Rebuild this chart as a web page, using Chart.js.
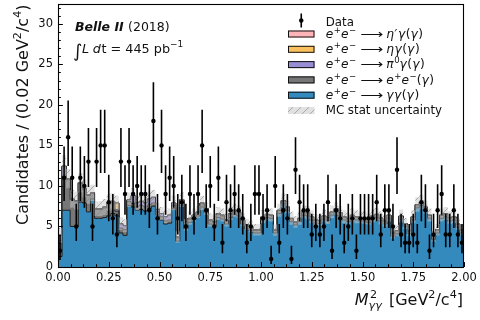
<!DOCTYPE html>
<html>
<head>
<meta charset="utf-8">
<script src="https://cdn.jsdelivr.net/npm/chart.js@4.4.1/dist/chart.umd.min.js"></script>
<style>
  html, body { margin: 0; padding: 0; background: #fff; }
  #wrap { width: 480px; height: 320px; }
</style>
</head>
<body>
<div id="wrap"><canvas id="c" width="480" height="320"></canvas></div>
<script>
// Histogram binning of M^2_gammagamma: 100 bins of 0.02 GeV^2/c^4 from 0 to 2
const BIN_WIDTH = 0.02;
const X_MIN = 0.0;
const X_MAX = 2.0;
const Y_MAX = 32.5;

// Observed candidates per bin
const dataCounts = [
  2, 11, 16, 11, 5, 11, 10, 13, 5, 13,
  15, 15, 8, 6, 4, 13, 9, 13, 9, 10,
  9, 9, 7, 18, 6, 15, 9, 11, 10, 6,
  8, 5, 9, 6, 9, 15, 7, 10, 5, 11,
  3, 8, 7, 9, 7, 6, 3, 5, 9, 9,
  6, 7, 1, 10, 3, 7, 6, 1, 12, 8,
  7, 7, 4, 5, 4, 5, 8, 2, 7, 6,
  3, 5, 6, 2, 6, 6, 6, 6, 8, 4,
  7, 7, 5, 12, 4, 3, 3, 4, 3, 8,
  7, 2, 4, 7, 9, 4, 4, 7, 4, 3
];

// Simulated yields per bin, one array per process (stacked bottom to top)
const ggYield = [
  1.3, 7.0, 7.0, 5.0, 5.0, 8.0, 7.9, 6.8, 8.4, 6.0,
  6.0, 6.1, 6.3, 6.6, 6.3, 4.2, 3.9, 7.6, 7.4, 7.0,
  7.1, 6.9, 7.2, 7.5, 6.4, 5.8, 5.3, 5.4, 7.2, 3.2,
  7.6, 4.7, 5.5, 5.9, 6.3, 7.4, 6.7, 5.3, 5.1, 6.1,
  5.9, 5.3, 6.1, 6.5, 6.3, 5.3, 4.7, 4.5, 4.2, 4.2,
  5.8, 6.1, 6.0, 4.2, 6.6, 7.8, 7.0, 5.6, 5.2, 5.6,
  6.4, 6.3, 5.8, 5.4, 5.4, 5.9, 5.7, 6.4, 6.8, 6.3,
  5.8, 5.6, 6.0, 5.8, 5.7, 5.7, 5.5, 5.9, 6.1, 5.7,
  5.3, 6.0, 3.8, 4.1, 5.9, 5.0, 4.1, 5.8, 7.3, 7.6,
  7.0, 6.0, 3.4, 4.2, 6.0, 6.2, 5.7, 5.8, 4.9, 4.2
];
const eeYield = [
  2.0, 4.2, 3.8, 3.3, 3.1, 2.3, 1.7, 2.0, 0.7, 1.1,
  1.1, 1.2, 1.5, 1.2, 0.6, 0.6, 0.7, 0.5, 0.5, 0.5,
  0.5, 0.5, 0.5, 0.4, 0.4, 0.4, 0.4, 0.4, 0.4, 0.4,
  0.5, 0.4, 0.4, 0.4, 0.4, 0.4, 0.4, 0.4, 0.4, 0.4,
  0.4, 0.4, 0.4, 0.4, 0.4, 0.4, 0.4, 0.4, 0.3, 0.3,
  0.35, 0.35, 0.35, 0.3, 0.35, 0.35, 0.35, 0.35, 0.3, 0.35,
  0.35, 0.35, 0.35, 0.35, 0.3, 0.35, 0.35, 0.35, 0.35, 0.35,
  0.35, 0.35, 0.35, 0.35, 0.35, 0.35, 0.35, 0.35, 0.35, 0.3,
  0.35, 0.35, 0.35, 0.35, 0.35, 0.3, 0.35, 0.35, 0.35, 0.35,
  0.35, 0.35, 0.35, 0.35, 0.35, 0.35, 0.35, 0.35, 0.35, 0.35
];
const pi0Yield = [
  0.6, 1.2, 0.1, 0.1, 0.1, 0.1, 0.1, 0.1, 0.05, 0.1,
  0.1, 0.1, 0.1, 0.2, 0.2, 0.5, 0.5, 0.2, 0.9, 0.4,
  0.5, 0.5, 0.7, 0.7, 0.3, 0.4, 0.5, 0.6, 0.3, 0.1,
  0.2, 0.1, 0.1, 0.1, 0.1, 0.1, 0.1, 0.1, 0.1, 0.1,
  0.1, 0.1, 0.1, 0.1, 0.1, 0.1, 0.1, 0.1, 0.1, 0.1,
  0.05, 0.05, 0.05, 0.05, 0.05, 0.05, 0.05, 0.05, 0.05, 0.05,
  0.05, 0.05, 0.05, 0.05, 0.05, 0.05, 0.05, 0.05, 0.05, 0.05,
  0.05, 0.05, 0.05, 0.05, 0.05, 0.05, 0.05, 0.05, 0.05, 0.05,
  0.05, 0.05, 0.05, 0.05, 0.05, 0.05, 0.05, 0.05, 0.05, 0.05,
  0.05, 0.05, 0.05, 0.05, 0.05, 0.05, 0.05, 0.05, 0.05, 0.05
];
const etaYield = [
  0, 0.05, 0, 0, 0, 0, 0, 0, 0, 0,
  0, 0, 0.05, 0.1, 0.8, 0.05, 0, 0, 0, 0,
  0, 0, 0, 0, 0, 0, 0, 0, 0, 0,
  0, 0, 0, 0, 0, 0, 0, 0, 0, 0,
  0, 0, 0, 0, 0, 0, 0, 0, 0, 0,
  0, 0, 0, 0, 0, 0, 0, 0, 0, 0,
  0, 0, 0, 0, 0, 0, 0, 0, 0, 0,
  0, 0, 0, 0, 0, 0, 0, 0, 0, 0,
  0, 0, 0, 0, 0, 0, 0, 0, 0, 0,
  0, 0, 0, 0, 0, 0, 0, 0, 0, 0
];
const etapYield = [
  0, 0.02, 0, 0, 0, 0, 0, 0, 0, 0,
  0, 0, 0, 0, 0, 0, 0, 0, 0, 0,
  0, 0, 0, 0, 0, 0, 0, 0, 0, 0,
  0, 0, 0, 0, 0, 0, 0, 0, 0, 0,
  0, 0, 0, 0, 0.03, 0.05, 0.05, 0.03, 0, 0,
  0, 0, 0, 0, 0, 0, 0, 0, 0, 0,
  0, 0, 0, 0, 0, 0, 0, 0, 0, 0,
  0, 0, 0, 0, 0, 0, 0, 0, 0, 0,
  0, 0, 0, 0, 0, 0, 0, 0, 0, 0,
  0, 0, 0, 0, 0, 0, 0, 0, 0, 0
];
// Statistical uncertainty of the summed simulation per bin
const mcStatErr = [
  0.9, 1.3, 1.2, 1.1, 1.1, 1.2, 1.1, 1.1, 1.0, 0.9,
  0.9, 1.0, 1.0, 1.0, 0.9, 0.8, 0.8, 0.9, 0.9, 0.9,
  0.9, 0.9, 0.9, 0.9, 0.8, 0.8, 0.8, 0.8, 0.9, 0.7,
  0.9, 0.7, 0.8, 0.8, 0.8, 0.9, 0.8, 0.8, 0.8, 0.8,
  0.8, 0.8, 0.8, 0.8, 0.8, 0.8, 0.7, 0.7, 0.7, 0.7,
  0.8, 0.8, 0.8, 0.7, 0.8, 0.9, 0.8, 0.8, 0.7, 0.8,
  0.8, 0.8, 0.8, 0.7, 0.7, 0.8, 0.8, 0.8, 0.8, 0.8,
  0.8, 0.7, 0.8, 0.8, 0.7, 0.8, 0.7, 0.8, 0.8, 0.8,
  0.7, 0.8, 0.7, 0.7, 0.8, 0.7, 0.7, 0.8, 0.9, 0.9,
  0.8, 0.8, 0.7, 0.7, 0.8, 0.8, 0.8, 0.8, 0.7, 0.7
];

// Legend entries (top to bottom); math labels are split into styled runs
const EE_RUNS = [{ t: 'e', i: 1 }, { t: '+', sup: 1 }, { t: 'e', i: 1 }, { t: '\u2212', sup: 1 }, { gap: 4 },
                 { t: '\u27F6', w: 23 }, { gap: 3 }];
const legendRuns = [
  [{ t: 'Data' }],
  EE_RUNS.concat([{ t: '\u03B7\u2032\u03B3', i: 1 }, { t: '(' }, { t: '\u03B3', i: 1 }, { t: ')' }]),
  EE_RUNS.concat([{ t: '\u03B7\u03B3', i: 1 }, { t: '(' }, { t: '\u03B3', i: 1 }, { t: ')' }]),
  EE_RUNS.concat([{ t: '\u03C0', i: 1 }, { t: '0', sup: 1 }, { t: '\u03B3', i: 1 }, { t: '(' }, { t: '\u03B3', i: 1 }, { t: ')' }]),
  EE_RUNS.concat([{ t: 'e', i: 1 }, { t: '+', sup: 1 }, { t: 'e', i: 1 }, { t: '\u2212', sup: 1 }, { t: '(' }, { t: '\u03B3', i: 1 }, { t: ')' }]),
  EE_RUNS.concat([{ t: '\u03B3\u03B3', i: 1 }, { t: '(' }, { t: '\u03B3', i: 1 }, { t: ')' }]),
  [{ t: 'MC stat uncertainty' }]
];
const processColors = {
  etap: '#FFB5B8',
  eta: '#FBC15E',
  pi0: '#988ED5',
  ee: '#777777',
  gg: '#348ABD'
};

Chart.defaults.font.family = "'DejaVu Sans', sans-serif";
Chart.defaults.color = '#111';

// running sums for the stacked step histogram
function addArrays(a, b) { return a.map((v, i) => v + b[i]); }
const topGG = ggYield.slice();
const topEE = addArrays(topGG, eeYield);
const topPi0 = addArrays(topEE, pi0Yield);
const topEta = addArrays(topPi0, etaYield);
const topEtap = addArrays(topEta, etapYield);
const bandLo = topEtap.map((v, i) => Math.max(0, v - mcStatErr[i]));
const bandHi = topEtap.map((v, i) => v + mcStatErr[i]);

// points at bin low edges plus the closing edge, drawn with step interpolation
function stepPoints(vals) {
  const pts = vals.map((v, i) => ({ x: X_MIN + i * BIN_WIDTH, y: v }));
  pts.push({ x: X_MAX, y: vals[vals.length - 1] });
  return pts;
}
const dataPoints = dataCounts.map((n, i) => ({ x: X_MIN + (i + 0.5) * BIN_WIDTH, y: n }));

function makeHatch(bgAlpha) {
  const c = document.createElement('canvas');
  c.width = 8; c.height = 8;
  const g = c.getContext('2d');
  g.fillStyle = 'rgba(200,200,200,' + bgAlpha + ')';
  g.fillRect(0, 0, 8, 8);
  g.strokeStyle = 'rgba(135,135,135,0.75)';
  g.lineWidth = 0.8;
  g.beginPath();
  g.moveTo(0, 8); g.lineTo(8, 0);
  g.moveTo(-2, 2); g.lineTo(2, -2);
  g.moveTo(6, 10); g.lineTo(10, 6);
  g.stroke();
  return g.createPattern(c, 'repeat');
}
const hatchFill = makeHatch(0.5);
const hatchLegend = makeHatch(0.55);

// styled text runs: italic, superscript, fixed-width glyphs and gaps
function runFont(r, size) {
  const s = r.sup || r.sub ? size * 0.7 : size;
  return (r.i ? 'italic ' : '') + s + "px 'DejaVu Sans'";
}
function runWidth(ctx, r, size) {
  if (r.gap) return r.gap;
  if (r.w) return r.w;
  ctx.font = runFont(r, size);
  return ctx.measureText(r.t).width + (r.i ? 0.6 * r.t.length : 0);
}
function runsWidth(ctx, runs, size) {
  return runs.reduce((s, r) => s + runWidth(ctx, r, size), 0);
}
function drawRuns(ctx, runs, x, y, size) {
  let cx = x;
  runs.forEach(r => {
    const w = runWidth(ctx, r, size);
    if (r.t) {
      ctx.font = runFont(r, size);
      const dy = r.sup ? -size * 0.42 : (r.sub ? size * 0.22 : 0);
      if (r.w) {
        const nat = ctx.measureText(r.t).width;
        ctx.save();
        ctx.translate(cx, y + dy);
        ctx.scale(r.w / nat, 1);
        ctx.fillText(r.t, 0, 0);
        ctx.restore();
      } else if (r.i && r.t.length > 1) {
        let gx = cx;
        for (const ch of r.t) { ctx.fillText(ch, gx, y + dy); gx += ctx.measureText(ch).width + 0.6; }
      } else {
        ctx.fillText(r.t, cx, y + dy);
      }
    }
    cx += w;
  });
  return cx;
}

const stackLine = {
  stepped: true,
  pointRadius: 0,
  pointHoverRadius: 0,
  borderWidth: 1,
  borderColor: '#1b1b1b',
  tension: 0
};

// vertical error bars on the data points
const errorBars = {
  id: 'errorBars',
  beforeDatasetDraw(chart, args) {
    if (args.index !== 0) return;
    const { ctx, chartArea: a, scales: { x, y } } = chart;
    ctx.save();
    ctx.beginPath();
    ctx.rect(a.left, a.top, a.right - a.left, a.bottom - a.top);
    ctx.clip();
    ctx.strokeStyle = '#000';
    ctx.lineWidth = 1.6;
    dataCounts.forEach((n, i) => {
      const s = Math.sqrt(n + 0.25);
      const lo = Math.max(0, n + 0.5 - s);
      const hi = n + 0.5 + s;
      const px = x.getPixelForValue(X_MIN + (i + 0.5) * BIN_WIDTH);
      ctx.beginPath();
      ctx.moveTo(px, y.getPixelForValue(lo));
      ctx.lineTo(px, y.getPixelForValue(hi));
      ctx.stroke();
    });
    ctx.restore();
  }
};

// axes box with inward major/minor tick marks
const frame = {
  id: 'frame',
  afterDatasetsDraw(chart) {
    const { ctx, chartArea: a, scales: { x, y } } = chart;
    ctx.save();
    ctx.strokeStyle = '#000';
    ctx.lineWidth = 1;
    for (let v = 0; v <= 32; v++) {
      const len = v % 5 === 0 ? 4.9 : 2.8;
      const py = Math.round(y.getPixelForValue(v)) + 0.5;
      ctx.beginPath(); ctx.moveTo(a.left, py); ctx.lineTo(a.left + len, py); ctx.stroke();
    }
    for (let k = 0; k <= 32; k++) {
      const len = k % 4 === 0 ? 4.9 : 2.8;
      const px = Math.round(x.getPixelForValue(k * 0.0625)) + 0.5;
      ctx.beginPath(); ctx.moveTo(px, a.bottom); ctx.lineTo(px, a.bottom - len); ctx.stroke();
    }
    ctx.lineWidth = 1.1;
    ctx.strokeRect(Math.round(a.left) + 0.5, Math.round(a.top) + 0.5,
                   Math.round(a.right - a.left) - 1, Math.round(a.bottom - a.top) - 1);
    ctx.restore();
  }
};

// axis titles, experiment label and legend
const decorations = {
  id: 'decorations',
  afterDraw(chart) {
    const ctx = chart.ctx;
    const a = chart.chartArea;
    ctx.save();
    ctx.fillStyle = '#111';
    ctx.textBaseline = 'alphabetic';
    ctx.textAlign = 'left';

    // y title, aligned to the top of the axes
    const ySize = 16;
    const yRuns = [{ t: 'Candidates / (0.02 GeV' }, { t: '2', sup: 1 }, { t: '/c' }, { t: '4', sup: 1 }, { t: ')' }];
    ctx.save();
    ctx.translate(27.5, a.top + 1);
    ctx.rotate(-Math.PI / 2);
    drawRuns(ctx, yRuns, -runsWidth(ctx, yRuns, ySize), 0, ySize);
    ctx.restore();

    // x title, aligned to the right end of the axes
    const xSize = 16;
    const base = 305;
    const unitRuns = [{ t: ' [GeV' }, { t: '2', sup: 1 }, { t: '/c' }, { t: '4', sup: 1 }, { t: ']' }];
    const wUnit = runsWidth(ctx, unitRuns, xSize);
    ctx.font = "italic " + xSize + "px 'DejaVu Sans'";
    const wM = ctx.measureText('M').width;
    ctx.font = "italic 11.2px 'DejaVu Sans'";
    const wSub = ctx.measureText('\u03B3\u03B3').width + 1;
    const xEnd = a.right - 1;
    const xM = xEnd - wUnit - wSub - wM - 1;
    ctx.font = "italic " + xSize + "px 'DejaVu Sans'";
    ctx.fillText('M', xM, base);
    ctx.font = "11.2px 'DejaVu Sans'";
    ctx.fillText('2', xM + wM + 1.5, base - 7);
    ctx.font = "italic 11.2px 'DejaVu Sans'";
    ctx.fillText('\u03B3\u03B3', xM + wM, base + 4);
    drawRuns(ctx, unitRuns, xEnd - wUnit, base, xSize);

    // experiment label
    ctx.font = "italic bold 12.5px 'DejaVu Sans'";
    ctx.fillText('Belle II', 75, 30.5);
    const wB = ctx.measureText('Belle II ').width;
    ctx.font = "12.5px 'DejaVu Sans'";
    ctx.fillText('(2018)', 75 + wB, 30.5);
    ctx.font = "18px 'DejaVu Sans'";
    ctx.fillText('\u222B', 73, 56.5);
    drawRuns(ctx, [{ t: 'L', i: 1 }, { gap: 3 }, { t: 'd', i: 1 }, { t: 't = 445 pb' },
                   { t: '\u22121', sup: 1 }], 82, 52.5, 12.8);

    // legend
    const rowY = [20.5, 34, 49.3, 64.6, 79.9, 95.2, 110.5];
    const patchFill = [null, processColors.etap, processColors.eta, processColors.pi0,
                       processColors.ee, processColors.gg, hatchLegend];
    const px0 = 288, pw = 26.5, ph = 7;
    legendRuns.forEach((runs, r) => {
      const cy = rowY[r];
      if (r === 0) {
        ctx.strokeStyle = '#000';
        ctx.lineWidth = 1.6;
        ctx.beginPath(); ctx.moveTo(px0 + pw / 2, cy - 7); ctx.lineTo(px0 + pw / 2, cy + 7); ctx.stroke();
        ctx.beginPath(); ctx.arc(px0 + pw / 2, cy, 2.2, 0, Math.PI * 2); ctx.fillStyle = '#000'; ctx.fill();
      } else {
        ctx.fillStyle = patchFill[r];
        ctx.fillRect(px0, cy - ph / 2, pw, ph);
        if (r < 6) {
          ctx.strokeStyle = '#111';
          ctx.lineWidth = 1;
          ctx.strokeRect(px0 + 0.5, cy - ph / 2 + 0.5, pw - 1, ph - 1);
        }
      }
      ctx.fillStyle = '#111';
      drawRuns(ctx, runs, 325.7, r === 0 ? 26 : cy + 3.8, r === 0 || r === 6 ? 11.8 : 12.2);
    });
    ctx.restore();
  }
};

new Chart(document.getElementById('c'), {
  type: 'line',
  data: {
    datasets: [
      { type: 'scatter', label: 'Data', data: dataPoints, showLine: false,
        pointRadius: 2.2, pointHoverRadius: 2.2, pointBackgroundColor: '#000', pointBorderWidth: 0 },
      { label: 'MC stat low', data: stepPoints(bandLo), stepped: true, pointRadius: 0,
        borderWidth: 0, borderColor: 'rgba(0,0,0,0)', fill: false },
      { label: 'MC stat uncertainty', data: stepPoints(bandHi), stepped: true, pointRadius: 0,
        borderWidth: 0, borderColor: 'rgba(0,0,0,0)', fill: 1, backgroundColor: hatchFill },
      Object.assign({ label: 'e+e- -> gg(g)', data: stepPoints(topGG), fill: 'origin',
        backgroundColor: processColors.gg }, stackLine),
      Object.assign({ label: 'e+e- -> e+e-(g)', data: stepPoints(topEE), fill: 3,
        backgroundColor: processColors.ee }, stackLine),
      Object.assign({ label: 'e+e- -> pi0 g(g)', data: stepPoints(topPi0), fill: 4,
        backgroundColor: processColors.pi0 }, stackLine),
      Object.assign({ label: 'e+e- -> eta g(g)', data: stepPoints(topEta), fill: 5,
        backgroundColor: processColors.eta }, stackLine),
      Object.assign({ label: "e+e- -> eta' g(g)", data: stepPoints(topEtap), fill: 6,
        backgroundColor: processColors.etap }, stackLine)
    ]
  },
  options: {
    responsive: false,
    devicePixelRatio: 1,
    animation: false,
    events: [],
    layout: { padding: { left: 0, right: 16, top: 3.5, bottom: 0 } },
    plugins: { legend: { display: false }, tooltip: { enabled: false } },
    scales: {
      x: {
        type: 'linear', min: X_MIN, max: X_MAX,
        grid: { display: false, drawTicks: false },
        border: { display: false },
        ticks: {
          stepSize: 0.25, autoSkip: false, maxRotation: 0, padding: 4,
          font: { size: 11.5 }, color: '#111',
          callback: v => Number(v).toFixed(2)
        },
        afterFit(s) { s.height = 53; s.paddingLeft = 0; s.paddingRight = 0; }
      },
      y: {
        type: 'linear', min: 0, max: Y_MAX,
        grid: { display: false, drawTicks: false },
        border: { display: false },
        ticks: { stepSize: 5, padding: 5, font: { size: 11.5 }, color: '#111' },
        afterBuildTicks(s) { s.ticks = s.ticks.filter(t => t.value % 5 === 0); },
        afterFit(s) { s.width = 58; s.paddingTop = 0; s.paddingBottom = 0; }
      }
    }
  },
  plugins: [errorBars, frame, decorations]
});
</script>
</body>
</html>
